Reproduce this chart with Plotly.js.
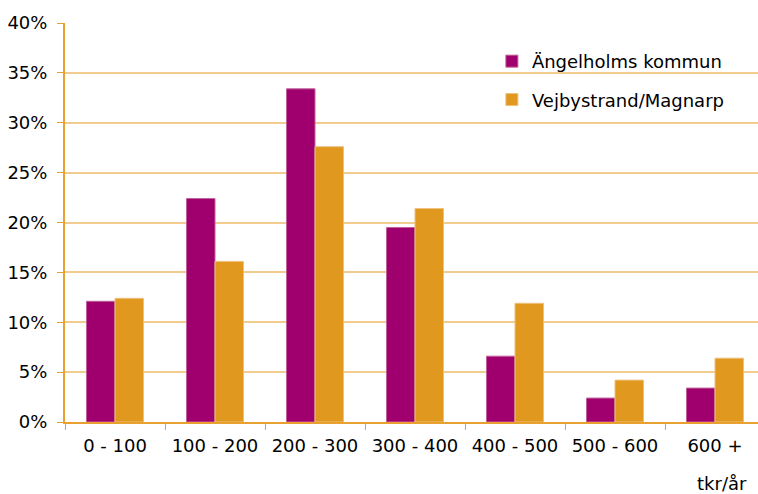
<!DOCTYPE html>
<html><head><meta charset="utf-8">
<script src="https://cdn.plot.ly/plotly-3.0.1.min.js"></script>
<style>body{margin:0;background:#fff}#c{width:758px;height:494px}</style>
</head><body><div id="c"></div>
<script>
const categories = ["0 - 100","100 - 200","200 - 300","300 - 400","400 - 500","500 - 600","600 +"];
const angelholm = [12.1, 22.4, 33.4, 19.5, 6.6, 2.4, 3.4];
const vejbystrand = [12.4, 16.1, 27.6, 21.4, 11.9, 4.2, 6.4];
const seriesNames = ["Ängelholms kommun", "Vejbystrand/Magnarp"];
const yTicks = [0,5,10,15,20,25,30,35,40];
const yTickText = yTicks.map(v => v + '%');

const font = "'DejaVu Sans', sans-serif";
const traces = [
  {type:'bar', x:categories, y:angelholm, name:seriesNames[0], legendgroup:'a',
   marker:{color:'#A0006E', line:{color:'#C0609A', width:1}}},
  {type:'bar', x:categories, y:vejbystrand, name:seriesNames[1], legendgroup:'b',
   marker:{color:'#E0981E', line:{color:'#EDC080', width:1}}}
];
const layout = {
  width:758, height:494,
  margin:{l:65, r:0, t:23, b:72},
  paper_bgcolor:'#fff', plot_bgcolor:'#fff',
  font:{family:font, size:18, color:'#000'},
  barmode:'group', bargap:0.43, bargroupgap:0,
  showlegend:true,
  legend:{x:0.616, y:0.95, xanchor:'left', yanchor:'top', bgcolor:'rgba(0,0,0,0)',
    font:{family:font, size:18}, traceorder:'grouped', tracegroupgap:12, itemwidth:30},
  xaxis:{type:'category', range:[-0.5, 6.43], tickson:'boundaries', ticks:'outside', ticklen:6,
    tickcolor:'#E8A030', showline:true, linecolor:'#E8A030', linewidth:2, showgrid:false,
    ticklabelstandoff:6, tickfont:{family:font, size:18}},
  yaxis:{range:[0,40], tickvals:yTicks, ticktext:yTickText, ticks:'outside', ticklen:6, tickcolor:'#E8A030',
    showline:true, linecolor:'#E8A030', linewidth:2, gridcolor:'#F2CC8F', gridwidth:2,
    ticklabelstandoff:6, zeroline:false, tickfont:{family:font, size:18}},
  annotations:[{text:'tkr/år', xref:'paper', yref:'paper', x:0.948, y:-0.153, xanchor:'center', yanchor:'middle',
    showarrow:false, font:{family:font, size:18}}]
};
Plotly.newPlot('c', traces, layout, {displayModeBar:false, staticPlot:true});
</script></body></html>
